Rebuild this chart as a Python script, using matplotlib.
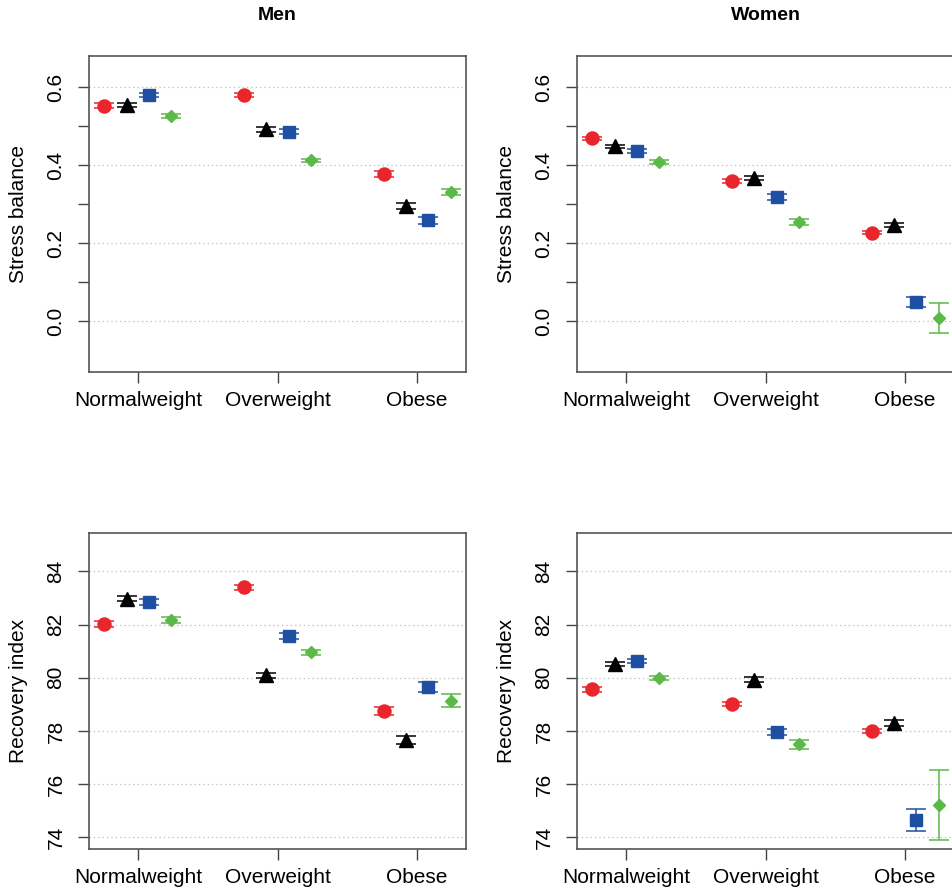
import matplotlib
matplotlib.use('Agg')
import matplotlib.pyplot as plt
import numpy as np

plt.rcParams['font.family'] = ['Liberation Sans', 'DejaVu Sans']

categories = ['Normalweight', 'Overweight', 'Obese']
groups = ['g1', 'g2', 'g3', 'g4']

# stress balance, one list per group (Normalweight, Overweight, Obese)
men_stress = [[0.553, 0.580, 0.378], [0.555, 0.492, 0.295],
              [0.580, 0.486, 0.259], [0.526, 0.413, 0.332]]
men_stress_err = [[0.006, 0.005, 0.007], [0.005, 0.006, 0.007],
                  [0.006, 0.006, 0.009], [0.005, 0.004, 0.008]]
women_stress = [[0.469, 0.360, 0.227], [0.449, 0.367, 0.246],
                [0.437, 0.319, 0.049], [0.409, 0.254, 0.009]]
women_stress_err = [[0.004, 0.005, 0.004], [0.004, 0.006, 0.005],
                    [0.005, 0.008, 0.0135], [0.005, 0.008, 0.039]]

# recovery index
men_recovery = [[82.01, 83.40, 78.76], [82.97, 80.09, 77.67],
                [82.85, 81.56, 79.65], [82.17, 80.96, 79.14]]
men_recovery_err = [[0.12, 0.10, 0.15], [0.10, 0.10, 0.15],
                    [0.12, 0.12, 0.20], [0.10, 0.10, 0.24]]
women_recovery = [[79.56, 79.01, 78.00], [80.51, 79.93, 78.30],
                  [80.64, 77.97, 74.65], [79.99, 77.49, 75.22]]
women_recovery_err = [[0.08, 0.08, 0.08], [0.08, 0.10, 0.10],
                       [0.07, 0.12, 0.42], [0.07, 0.18, 1.32]]

COLORS = ['#e8262b', '#000000', '#1f4fa3', '#5ab947']
MARKERS = ['o', '^', 's', 'D']
SIZES = [9.4, 9.6, 8.3, 6.4]
OFFSETS = [-0.24, -0.08, 0.08, 0.24]

W, H = 952.0, 894.0


def major_labels(major):
    if major[0] > 10:
        return ['%d' % v for v in major]
    return ['%.1f' % v for v in major]


def panel(fig, rect, values, errors, ylim, major, minor, ylabel, title=None):
    x0, y0, x1, y1 = rect
    ax = fig.add_axes([x0 / W, 1 - y1 / H, (x1 - x0) / W, (y1 - y0) / H])
    x = np.arange(1, len(categories) + 1)
    for i in range(len(groups)):
        ax.errorbar(x + OFFSETS[i], values[i], yerr=errors[i], fmt=MARKERS[i],
                    color=COLORS[i], ms=SIZES[i], elinewidth=1.1, capsize=7.5,
                    capthick=1.1, zorder=3)
    # grid only at the labelled ticks
    for v in major:
        ax.axhline(v, color='#bbbbbb', lw=0.9, ls=(0, (1, 2.5)), zorder=1)
    ax.set_xlim(0.65, 3.35)
    ax.set_ylim(*ylim)
    ax.set_xticks(x)
    ax.set_xticklabels(categories, fontsize=15)
    ax.set_yticks(major)
    ax.set_yticklabels(major_labels(major), fontsize=15, rotation=90, va='center')
    ax.set_yticks(minor, minor=True)
    ax.tick_params(axis='both', which='both', length=8, width=1, color='#444444')
    ax.tick_params(axis='x', pad=6)
    ax.tick_params(axis='y', pad=9)
    for s in ax.spines.values():
        s.set_color('#555555')
        s.set_linewidth(1.2)
    ax.set_ylabel(ylabel, fontsize=15)
    ax.yaxis.set_label_coords(-0.163, 0.5)
    if title:
        fig.text((x0 + x1) / 2 / W, 1 - 16 / H, title, fontsize=14, fontweight='bold',
                 ha='center', va='center')
    return ax


def main():
    fig = plt.figure(figsize=(W / 100, H / 100), dpi=100)
    stress_major = [0.0, 0.2, 0.4, 0.6]
    stress_minor = [0.1, 0.3, 0.5]
    rec_major = [74, 76, 78, 80, 82, 84]
    panel(fig, (89, 56, 466, 372), men_stress, men_stress_err, (-0.13, 0.68),
          stress_major, stress_minor, 'Stress balance', 'Men')
    panel(fig, (577, 56, 954, 372), women_stress, women_stress_err, (-0.13, 0.68),
          stress_major, stress_minor, 'Stress balance', 'Women')
    panel(fig, (89, 533, 466, 849), men_recovery, men_recovery_err, (73.56, 85.44),
          rec_major, [], 'Recovery index')
    panel(fig, (577, 533, 954, 849), women_recovery, women_recovery_err, (73.56, 85.44),
          rec_major, [], 'Recovery index')
    fig.savefig('out.png', dpi=100)


if __name__ == '__main__':
    main()
